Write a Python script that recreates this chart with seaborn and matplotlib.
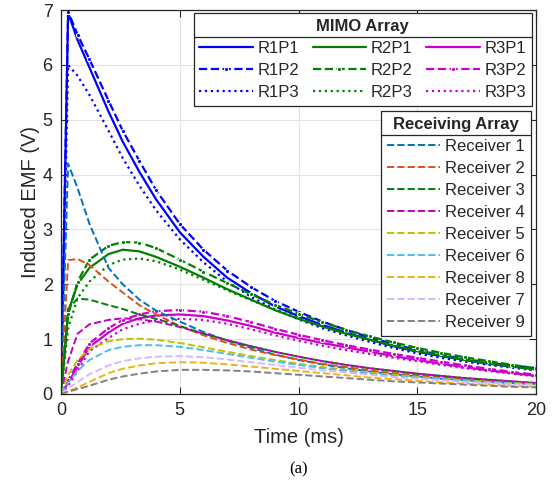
import matplotlib
matplotlib.use("Agg")
import matplotlib.pyplot as plt
from matplotlib.lines import Line2D
import seaborn as sns

# time axis (ms)
t_ms = [0, 0.3, 0.7, 1.2, 2, 2.6, 3.3, 4, 5, 6, 7, 8, 9, 10,
        11, 12, 13, 14, 15, 16, 17, 18, 19, 20]

# MIMO array (V)
r1p1 = [0, 6.95, 6.45, 5.95, 5.15, 4.6, 4.05, 3.55, 2.95, 2.5, 2.12, 1.84, 1.6, 1.42,
        1.26, 1.12, 0.99, 0.87, 0.77, 0.69, 0.62, 0.55, 0.5, 0.45]
r1p2 = [0, 6.97, 6.55, 6.1, 5.35, 4.8, 4.25, 3.72, 3.1, 2.63, 2.25, 1.95, 1.7, 1.5,
        1.32, 1.17, 1.03, 0.91, 0.8, 0.71, 0.64, 0.57, 0.52, 0.47]
r1p3 = [0, 6.0, 5.8, 5.45, 4.8, 4.3, 3.8, 3.35, 2.82, 2.4, 2.05, 1.77, 1.55, 1.36,
        1.2, 1.07, 0.95, 0.84, 0.74, 0.66, 0.59, 0.53, 0.48, 0.43]
r2p1 = [0, 1.5, 2.0, 2.3, 2.55, 2.63, 2.6, 2.5, 2.32, 2.12, 1.91, 1.72, 1.53, 1.37,
        1.23, 1.1, 0.99, 0.88, 0.78, 0.7, 0.62, 0.56, 0.5, 0.45]
r2p2 = [0, 1.45, 2.05, 2.45, 2.7, 2.77, 2.76, 2.66, 2.45, 2.23, 2.02, 1.82, 1.63, 1.46,
        1.31, 1.17, 1.05, 0.94, 0.84, 0.75, 0.67, 0.6, 0.53, 0.47]
r2p3 = [0, 1.2, 1.75, 2.05, 2.35, 2.45, 2.47, 2.42, 2.27, 2.08, 1.89, 1.71, 1.54, 1.38,
        1.24, 1.11, 0.99, 0.89, 0.79, 0.71, 0.63, 0.56, 0.5, 0.44]
r3p1 = [0, 0.2, 0.5, 0.86, 1.12, 1.28, 1.38, 1.43, 1.45, 1.42, 1.34, 1.24, 1.12, 1.02,
        0.93, 0.85, 0.77, 0.69, 0.62, 0.55, 0.49, 0.43, 0.38, 0.33]
r3p2 = [0, 0.25, 0.55, 0.92, 1.2, 1.35, 1.45, 1.51, 1.53, 1.5, 1.42, 1.31, 1.19, 1.08,
        0.98, 0.89, 0.81, 0.73, 0.66, 0.59, 0.52, 0.46, 0.4, 0.35]
r3p3 = [0, 0.15, 0.42, 0.78, 1.02, 1.18, 1.28, 1.34, 1.37, 1.35, 1.28, 1.18, 1.07, 0.97,
        0.88, 0.8, 0.73, 0.66, 0.6, 0.53, 0.47, 0.42, 0.37, 0.32]

# receiving array (V)
rec1 = [0, 4.2, 3.75, 3.1, 2.3, 2.0, 1.72, 1.52, 1.32, 1.13, 0.97, 0.84, 0.72, 0.62,
        0.54, 0.47, 0.41, 0.36, 0.32, 0.28, 0.25, 0.22, 0.2, 0.18]
rec2 = [0, 2.44, 2.46, 2.35, 2.05, 1.85, 1.62, 1.45, 1.24, 1.07, 0.93, 0.81, 0.71, 0.63,
        0.55, 0.49, 0.43, 0.38, 0.34, 0.3, 0.27, 0.24, 0.21, 0.19]
rec3 = [0, 1.55, 1.74, 1.72, 1.62, 1.55, 1.45, 1.37, 1.24, 1.1, 0.98, 0.87, 0.77, 0.68,
        0.6, 0.53, 0.47, 0.42, 0.37, 0.33, 0.29, 0.26, 0.23, 0.2]
rec4 = [0, 0.6, 1.1, 1.27, 1.35, 1.38, 1.36, 1.32, 1.22, 1.1, 0.98, 0.87, 0.77, 0.68,
        0.6, 0.53, 0.47, 0.42, 0.37, 0.33, 0.29, 0.26, 0.23, 0.2]
rec5 = [0, 0.35, 0.62, 0.82, 0.96, 1.0, 1.01, 0.99, 0.93, 0.85, 0.77, 0.69, 0.62, 0.55,
        0.49, 0.44, 0.39, 0.35, 0.31, 0.28, 0.25, 0.22, 0.2, 0.18]
rec6 = [0, 0.2, 0.42, 0.62, 0.8, 0.86, 0.89, 0.89, 0.86, 0.8, 0.73, 0.66, 0.59, 0.53,
        0.47, 0.42, 0.37, 0.33, 0.3, 0.27, 0.24, 0.21, 0.19, 0.17]
rec8 = [0, 0.05, 0.12, 0.22, 0.38, 0.46, 0.52, 0.56, 0.58, 0.57, 0.54, 0.5, 0.46, 0.42,
        0.38, 0.34, 0.3, 0.27, 0.24, 0.21, 0.19, 0.17, 0.15, 0.13]
rec7 = [0, 0.1, 0.22, 0.36, 0.52, 0.6, 0.65, 0.68, 0.69, 0.67, 0.63, 0.58, 0.53, 0.48,
        0.43, 0.39, 0.35, 0.31, 0.28, 0.25, 0.22, 0.2, 0.18, 0.16]
rec9 = [0, 0.04, 0.09, 0.15, 0.26, 0.32, 0.37, 0.41, 0.44, 0.44, 0.43, 0.41, 0.38, 0.35,
        0.32, 0.29, 0.26, 0.23, 0.21, 0.19, 0.17, 0.15, 0.13, 0.12]

mimo_labels = ["R1P1", "R1P2", "R1P3", "R2P1", "R2P2", "R2P3", "R3P1", "R3P2", "R3P3"]
mimo_values = [r1p1, r1p2, r1p3, r2p1, r2p2, r2p3, r3p1, r3p2, r3p3]
rec_labels = ["Receiver 1", "Receiver 2", "Receiver 3", "Receiver 4", "Receiver 5",
              "Receiver 6", "Receiver 8", "Receiver 7", "Receiver 9"]
rec_values = [rec1, rec2, rec3, rec4, rec5, rec6, rec8, rec7, rec9]

mimo_colors = ["#0000ff", "#008000", "#cc00cc"]
rec_colors = ["#0072bd", "#d95319", "#008000", "#bf00bf", "#bfbf00",
              "#4dbeee", "#edb120", "#d9b8ff", "#808080"]

sns.set_theme(style="whitegrid")
plt.rcParams["font.family"] = ["Liberation Sans", "DejaVu Sans"]

fig, ax = plt.subplots(figsize=(5.58, 4.91), dpi=100)
fig.subplots_adjust(left=0.1093, right=0.9606, top=0.9796, bottom=0.1976)

mimo_handles = []
for i, (lab, vals) in enumerate(zip(mimo_labels, mimo_values)):
    color = mimo_colors[i // 3]
    kind = i % 3
    kw = dict(color=color, lw=1.6)
    if kind == 0:
        kw.update(linestyle="-")
    elif kind == 1:
        kw.update(linestyle="--", marker=".", markersize=6, dashes=(4, 2.5))
    else:
        kw.update(linestyle=":", lw=1.6)
    sns.lineplot(x=t_ms, y=vals, ax=ax, label=lab, **kw)
    mimo_handles.append(ax.lines[-1])

rec_handles = []
for lab, vals, color in zip(rec_labels, rec_values, rec_colors):
    sns.lineplot(x=t_ms, y=vals, ax=ax, label=lab, color=color, lw=1.4,
                 linestyle="--", dashes=(4, 3))
    rec_handles.append(ax.lines[-1])

ax.set_xlim(0, 20)
ax.set_ylim(0, 7)
ax.set_xticks([0, 5, 10, 15, 20])
ax.set_yticks(range(0, 8))
ax.set_xlabel("Time (ms)", fontsize=14.5, color="#262626", labelpad=6)
ax.set_ylabel("Induced EMF (V)", fontsize=14.5, color="#262626", labelpad=2)
ax.tick_params(direction="in", length=5, width=0.8, colors="#262626",
               labelsize=13, top=True, right=True, bottom=True, left=True, pad=6)
ax.grid(True, color="#e3e3e3", lw=0.8)
for sp in ax.spines.values():
    sp.set_color("#262626")
    sp.set_linewidth(0.9)

leg_kw = dict(loc="upper right", borderaxespad=0, fontsize=12,
              title_fontproperties={"weight": "bold", "size": 12},
              handlelength=3.2, handletextpad=0.3, labelspacing=0.42,
              borderpad=0.35, fancybox=False, framealpha=1, edgecolor="#262626")

leg1 = ax.legend(handles=mimo_handles, labels=mimo_labels, ncol=3, title="MIMO Array",
                 bbox_to_anchor=(0.992, 0.992), columnspacing=0.8, **leg_kw)
leg1.get_frame().set_linewidth(0.9)
ax.add_artist(leg1)

leg2 = ax.legend(handles=rec_handles, labels=rec_labels, title="Receiving Array",
                 bbox_to_anchor=(0.989, 0.737), **leg_kw)
leg2.get_frame().set_linewidth(0.9)

fig.text(0.535, 0.045, "(a)", fontsize=12, family=["Liberation Serif"], ha="center",
         va="center", color="black")

# separator line under each legend title
fig.canvas.draw()
inv = fig.transFigure.inverted()
sep_px = 0.42 * 12 * 100 / 72
for leg in (leg1, leg2):
    fb = leg.get_frame().get_window_extent()
    tb = leg.get_title().get_window_extent()
    y = tb.y0 - sep_px / 2
    (x0, yy), (x1, _) = inv.transform([(fb.x0, y), (fb.x1, y)])
    fig.add_artist(Line2D([x0, x1], [yy, yy], color="#262626", lw=0.9,
                          transform=fig.transFigure, zorder=10))

fig.savefig("out.png", dpi=100)
